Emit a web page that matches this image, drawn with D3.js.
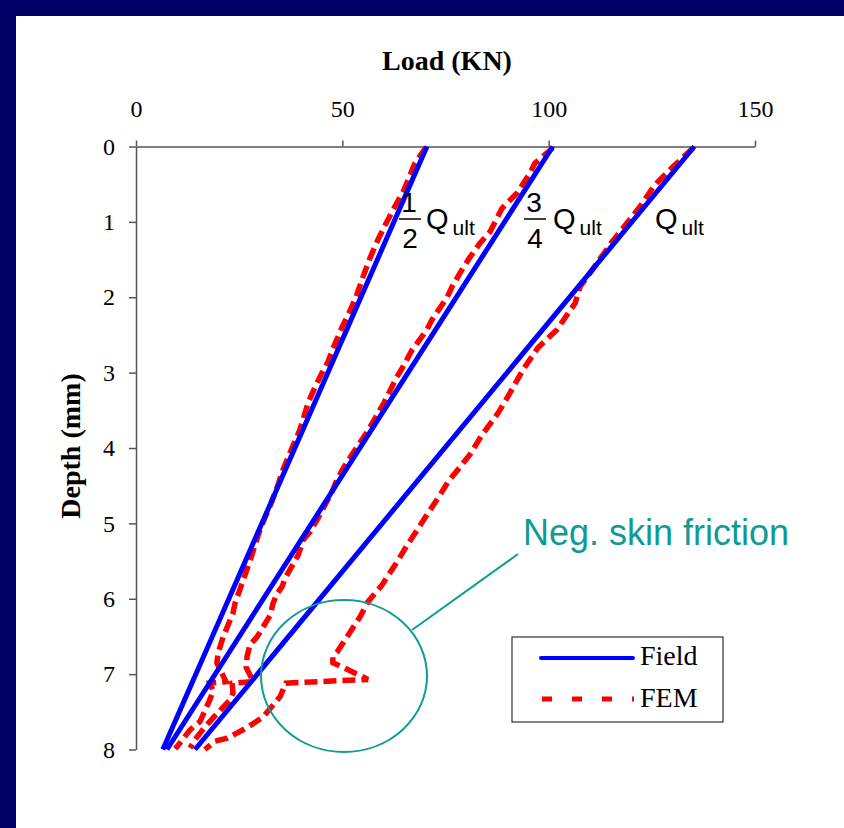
<!DOCTYPE html>
<html>
<head>
<meta charset="utf-8">
<script src="https://cdn.jsdelivr.net/npm/d3@7"></script>
<style>
  html, body { margin: 0; padding: 0; background: #ffffff; overflow: hidden; }
  svg { display: block; }
</style>
</head>
<body>
<svg id="chart" width="844" height="828"></svg>
<script>
// Axis ticks
const loadTicks = [0, 50, 100, 150];
const depthTicks = [0, 1, 2, 3, 4, 5, 6, 7, 8];

// Field measurements: load (kN) at pile head (depth 0) and tip (depth 8)
const fieldDepth = [0, 8];
const fieldHalf = [70.5, 6.5];
const fieldThreeQuarter = [101.0, 7.5];
const fieldUlt = [135.3, 14.3];

// FEM results: [load, depth] pairs
const femHalf = [
  [70.3, 0.01], [67.6, 0.22], [64.9, 0.58], [62.3, 0.84], [60.3, 1.05],
  [58.6, 1.24], [56.7, 1.48], [55.0, 1.73], [53.3, 2.00], [51.6, 2.21],
  [49.9, 2.40], [47.5, 2.71], [46.5, 2.86], [45.1, 3.00], [43.4, 3.19],
  [41.7, 3.40], [39.7, 3.76], [36.8, 4.13], [35.6, 4.29], [34.4, 4.49],
  [32.7, 4.74], [31.2, 4.93], [29.9, 5.11], [28.8, 5.29], [28.1, 5.42],
  [26.0, 5.75], [24.0, 6.06], [23.5, 6.19], [21.1, 6.51], [19.9, 6.72],
  [19.6, 6.85], [21.8, 7.10], [17.9, 7.12], [18.7, 7.22], [17.9, 7.34],
  [15.5, 7.63], [13.1, 7.74], [10.7, 7.91], [9.5, 7.99]
];
const femThreeQuarter = [
  [101.0, 0.02], [96.7, 0.22], [95.5, 0.35], [92.3, 0.62], [88.7, 0.82],
  [85.8, 1.13], [83.4, 1.28], [80.9, 1.47], [78.5, 1.68], [76.6, 1.86],
  [75.4, 2.00], [71.7, 2.30], [70.5, 2.43], [66.9, 2.70], [64.5, 2.94],
  [63.2, 3.06], [60.1, 3.40], [56.0, 3.79], [52.3, 4.09], [50.2, 4.27],
  [48.7, 4.42], [47.5, 4.58], [44.1, 4.93], [42.2, 5.11], [40.5, 5.22],
  [39.3, 5.42], [36.1, 5.73], [35.4, 5.84], [34.2, 5.93], [33.2, 6.06],
  [32.5, 6.22], [29.3, 6.51], [27.6, 6.61], [26.9, 6.77], [26.7, 6.91],
  [28.4, 7.10], [23.3, 7.12], [23.5, 7.25], [22.8, 7.34], [18.7, 7.58],
  [16.7, 7.70], [14.3, 7.87], [13.1, 7.98]
];
const femUlt = [
  [135.0, 0.02], [130.1, 0.27], [125.7, 0.51], [122.1, 0.80], [115.3, 1.27],
  [110.0, 1.68], [107.6, 1.86], [106.4, 2.08], [102.0, 2.43], [97.4, 2.67],
  [93.8, 2.96], [90.1, 3.32], [87.7, 3.54], [83.8, 3.83], [80.9, 4.09],
  [75.6, 4.45], [73.7, 4.62], [70.0, 4.93], [68.1, 5.09], [65.7, 5.29],
  [63.5, 5.49], [59.6, 5.82], [56.2, 6.04], [54.3, 6.24], [51.1, 6.51],
  [48.7, 6.71], [47.7, 6.77], [47.7, 6.85], [50.2, 6.91], [56.2, 7.07],
  [36.3, 7.12], [34.9, 7.30], [30.8, 7.57], [26.9, 7.71], [22.1, 7.85],
  [19.1, 7.89], [16.7, 8.00]
];

const blue = "#0000ff";
const red = "#ff0000";
const teal = "#0e9b96";
const navy = "#000066";

const svg = d3.select("#chart");

// Navy slide frame along the top and left edges
svg.append("rect").attr("x", 0).attr("y", 0).attr("width", 844).attr("height", 16).attr("fill", navy);
svg.append("rect").attr("x", 0).attr("y", 0).attr("width", 16).attr("height", 828).attr("fill", navy);

const x = d3.scaleLinear().domain([0, 150]).range([136, 755]);
const y = d3.scaleLinear().domain([0, 8]).range([146.5, 749.5]);

// Load axis along the top
const xAxis = svg.append("g")
  .attr("transform", `translate(0,${y(0)})`)
  .call(d3.axisTop(x).tickValues(loadTicks).tickSizeInner(6).tickSizeOuter(0).tickPadding(24));

// Depth axis on the left
const yAxis = svg.append("g")
  .attr("transform", `translate(${x(0)},0)`)
  .call(d3.axisLeft(y).tickValues(depthTicks).tickSizeInner(7).tickSizeOuter(0).tickPadding(14));

[xAxis, yAxis].forEach(g => {
  g.selectAll("path, line").attr("stroke", "#555").attr("stroke-width", 1.5);
  g.selectAll("text")
    .attr("fill", "#000")
    .style("font-family", "'Liberation Serif', 'Times New Roman', serif")
    .style("font-size", "24px");
});

// Axis titles
svg.append("text")
  .attr("x", 447).attr("y", 70)
  .attr("text-anchor", "middle")
  .style("font-family", "'Liberation Serif', 'Times New Roman', serif")
  .style("font-size", "28px").style("font-weight", "bold")
  .text("Load (KN)");

svg.append("text")
  .attr("transform", "translate(80,446) rotate(-90)")
  .attr("text-anchor", "middle")
  .style("font-family", "'Liberation Serif', 'Times New Roman', serif")
  .style("font-size", "28px").style("font-weight", "bold")
  .text("Depth (mm)");

const line = d3.line().x(d => x(d[0])).y(d => y(d[1]));

// FEM curves (dashed red)
[femHalf, femThreeQuarter, femUlt].forEach(data => {
  svg.append("path")
    .datum(data)
    .attr("d", line)
    .attr("fill", "none")
    .attr("stroke", red)
    .attr("stroke-width", 5.5)
    .attr("stroke-dasharray", "13,6")
    .attr("stroke-linejoin", "miter");
});

// Field curves (solid blue)
[fieldHalf, fieldThreeQuarter, fieldUlt].forEach(loads => {
  const data = loads.map((l, i) => [l, fieldDepth[i]]);
  svg.append("path")
    .datum(data)
    .attr("d", line)
    .attr("fill", "none")
    .attr("stroke", blue)
    .attr("stroke-width", 5);
});

// Load level labels
const sans = "'Liberation Sans', Arial, sans-serif";
function qLabel(fx, num, den, qx) {
  const g = svg.append("g").style("font-family", sans).attr("fill", "#000");
  if (num !== null) {
    g.append("text").attr("x", fx).attr("y", 212).attr("text-anchor", "middle")
      .style("font-size", "28px").text(num);
    g.append("line").attr("x1", fx - 10).attr("x2", fx + 12)
      .attr("y1", 219).attr("y2", 219).attr("stroke", "#000").attr("stroke-width", 1.5);
    g.append("text").attr("x", fx + 1).attr("y", 248).attr("text-anchor", "middle")
      .style("font-size", "28px").text(den);
  }
  const t = g.append("text").attr("x", qx).attr("y", 229).style("font-size", "29px");
  t.append("tspan").text("Q");
  t.append("tspan").attr("dx", 4).attr("dy", 6).style("font-size", "21px").text("ult");
}
qLabel(409, "1", "2", 426);
qLabel(534, "3", "4", 553);
qLabel(0, null, null, 655);

// Negative skin friction callout
svg.append("ellipse")
  .attr("cx", 344).attr("cy", 676).attr("rx", 83).attr("ry", 76)
  .attr("fill", "none").attr("stroke", teal).attr("stroke-width", 2);
svg.append("line")
  .attr("x1", 412).attr("y1", 630).attr("x2", 518).attr("y2", 554)
  .attr("stroke", teal).attr("stroke-width", 2);
svg.append("text")
  .attr("x", 523).attr("y", 545)
  .attr("fill", teal)
  .style("font-family", sans).style("font-size", "36px")
  .text("Neg. skin friction");

// Legend
const legend = svg.append("g");
legend.append("rect")
  .attr("x", 512).attr("y", 637).attr("width", 211).attr("height", 85)
  .attr("fill", "#fff").attr("stroke", "#333").attr("stroke-width", 1.2);
legend.append("line")
  .attr("x1", 541).attr("x2", 633).attr("y1", 658).attr("y2", 658)
  .attr("stroke", blue).attr("stroke-width", 4).attr("stroke-linecap", "round");
legend.append("line")
  .attr("x1", 542).attr("x2", 634).attr("y1", 699).attr("y2", 699)
  .attr("stroke", red).attr("stroke-width", 5).attr("stroke-dasharray", "10,20");
const serif = "'Liberation Serif', 'Times New Roman', serif";
legend.append("text").attr("x", 640).attr("y", 665)
  .style("font-family", serif).style("font-size", "28px").text("Field");
legend.append("text").attr("x", 640).attr("y", 707)
  .style("font-family", serif).style("font-size", "28px").text("FEM");
</script>
</body>
</html>
